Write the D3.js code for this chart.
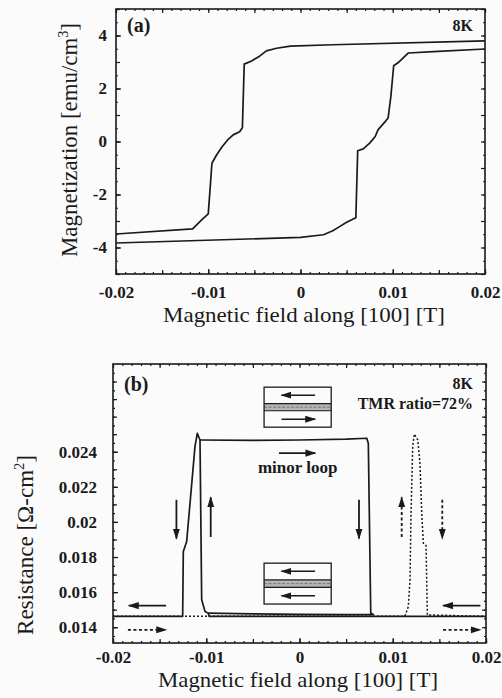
<!DOCTYPE html>
<html lang="en">
<head>
<meta charset="UTF-8">
<title>Magnetization and TMR loops</title>
<script src="https://d3js.org/d3.v7.min.js"></script>
<style>
  body { margin: 0; background: #fbfbfb; }
  svg { display: block; }
  text { font-family: "Liberation Serif", "DejaVu Serif", serif; fill: #1a1a1a; }
</style>
</head>
<body>
<div id="chart"></div>
<script>
// ---- data ----
const fieldTicks = [-0.02, -0.01, 0, 0.01, 0.02];
const magTicks = [-4, -2, 0, 2, 4];
const resTicks = [0.014, 0.016, 0.018, 0.02, 0.022, 0.024];

// (a) branch that flips at negative field  [H (T), M (emu/cm3)]
const magSwitchNeg = [
  [-0.02, -3.49], [-0.0117, -3.3], [-0.0106, -2.92], [-0.0100, -2.73],
  [-0.0096, -0.82], [-0.0091, -0.51], [-0.0085, -0.2], [-0.0079, 0.06],
  [-0.0073, 0.25], [-0.0066, 0.37], [-0.0063, 0.52], [-0.0061, 2.92],
  [-0.0053, 3.04], [-0.0044, 3.23], [-0.0037, 3.42], [-0.0026, 3.52],
  [-0.0011, 3.6], [0.0035, 3.65], [0.02, 3.8]
];
// (a) branch that flips at positive field
const magSwitchPos = [
  [-0.02, -3.83], [0, -3.62], [0.0025, -3.52], [0.0035, -3.37],
  [0.0041, -3.24], [0.005, -3.05], [0.006, -2.88], [0.0062, -0.35],
  [0.0068, -0.28], [0.0075, -0.06], [0.0081, 0.19], [0.0084, 0.44],
  [0.0092, 0.76], [0.0095, 0.89], [0.0098, 1.71], [0.0101, 2.86],
  [0.0106, 2.98], [0.0117, 3.34], [0.0144, 3.39], [0.02, 3.49]
];

// (b) resistance [H (T), R (Ohm cm2)]
// full sweep, field decreasing (solid)
const resDown = [
  [0.02, 0.01462], [-0.0097, 0.01462], [-0.00978, 0.0148], [-0.01013, 0.01489],
  [-0.01049, 0.01556], [-0.01067, 0.02467], [-0.01075, 0.02477], [-0.01096, 0.02505],
  [-0.01121, 0.02429], [-0.0121, 0.01888], [-0.01246, 0.01831], [-0.01253, 0.01462],
  [-0.02, 0.01462]
];
// minor loop (solid)
const resMinor = [
  [-0.01067, 0.02467], [-0.005, 0.02465], [0, 0.02467], [0.005, 0.02472],
  [0.00721, 0.02477], [0.00738, 0.02448], [0.00764, 0.0148], [0.00792, 0.01472],
  [0.005, 0.01472], [0, 0.01473], [-0.005, 0.01476], [-0.00978, 0.0148]
];
// full sweep, field increasing (dashed)
const resUp = [
  [-0.02, 0.01462], [0.0113, 0.01462], [0.01167, 0.01517], [0.01185, 0.0167],
  [0.01196, 0.02051], [0.01214, 0.02429], [0.01231, 0.02501], [0.01268, 0.02467],
  [0.01292, 0.02334], [0.01311, 0.0205], [0.01328, 0.01879], [0.01357, 0.01865],
  [0.01371, 0.0147], [0.02, 0.01462]
];

// sweep arrows: [H1, R1, H2, R2, dashed]
const resArrows = [
  [-0.0143, 0.01523, -0.0183, 0.01523, false],
  [-0.0184, 0.01385, -0.0143, 0.01385, true],
  [0.0194, 0.01523, 0.0154, 0.01523, false],
  [0.0154, 0.01385, 0.0194, 0.01385, true],
  [-0.0132, 0.02126, -0.0132, 0.01905, false],
  [-0.00952, 0.01914, -0.00952, 0.02140, false],
  [0.00638, 0.02126, 0.00638, 0.01905, false],
  [0.01096, 0.01914, 0.01096, 0.02140, true],
  [0.01531, 0.02126, 0.01531, 0.01905, true],
  [-0.0022, 0.02392, 0.0017, 0.02392, false]
];

// magnetic layer sketches: field span, resistance span, arrow direction top / bottom
const insets = [
  { h: [-0.0038, 0.0034], r: [0.0254, 0.02768], top: -1, bottom: 1 },
  { h: [-0.0038, 0.0034], r: [0.01532, 0.01765], top: -1, bottom: -1 }
];

// ---- drawing ----
const W = 502, H = 698;
const ink = "#1a1a1a";
const svg = d3.select("#chart").append("svg").attr("width", W).attr("height", H);

const defs = svg.append("defs");
defs.append("marker")
  .attr("id", "head").attr("viewBox", "0 0 10 10")
  .attr("refX", 9).attr("refY", 5)
  .attr("markerWidth", 11).attr("markerHeight", 11)
  .attr("markerUnits", "userSpaceOnUse")
  .attr("orient", "auto")
  .append("path").attr("d", "M0,1.8 L10,5 L0,8.2 Z").attr("fill", ink);

function fmt(v) { return Math.abs(v) < 1e-12 ? "0" : String(+v.toFixed(4)); }

function frameAxes(g, x, y, opt) {
  const [x0, x1] = x.range(), [y0, y1] = y.range(); // y0 bottom, y1 top
  // major ticks with labels
  g.append("g").attr("transform", `translate(0,${y0})`)
    .call(d3.axisBottom(x).tickValues(fieldTicks).tickSizeInner(-5).tickSizeOuter(0)
      .tickPadding(opt.xPad).tickFormat(fmt))
    .call(a => a.select(".domain").remove())
    .call(a => a.selectAll("text").attr("font-size", 17).attr("font-weight", "bold").attr("font-family", null));
  g.append("g").attr("transform", `translate(${x0},0)`)
    .call(d3.axisLeft(y).tickValues(opt.yTicks).tickSizeInner(-5).tickSizeOuter(0)
      .tickPadding(opt.yPad).tickFormat(fmt))
    .call(a => a.select(".domain").remove())
    .call(a => a.selectAll("text").attr("font-size", 17).attr("font-weight", "bold").attr("font-family", null));
  // unlabeled sides and minor ticks
  const xMinor = d3.range(-20, 21).map(i => i * 0.001);
  const xMid = d3.range(-4, 5).map(i => i * 0.005);
  const blank = () => "";
  [[d3.axisBottom, y0], [d3.axisTop, y1]].forEach(([ax, pos]) => {
    g.append("g").attr("transform", `translate(0,${pos})`)
      .call(ax(x).tickValues(xMinor).tickSizeInner(-2).tickSizeOuter(0).tickFormat(blank))
      .call(a => a.select(".domain").remove());
    g.append("g").attr("transform", `translate(0,${pos})`)
      .call(ax(x).tickValues(xMid).tickSizeInner(-4).tickSizeOuter(0).tickFormat(blank))
      .call(a => a.select(".domain").remove());
  });
  [[d3.axisLeft, x0], [d3.axisRight, x1]].forEach(([ax, pos]) => {
    g.append("g").attr("transform", `translate(${pos},0)`)
      .call(ax(y).tickValues(opt.yMinor).tickSizeInner(-2).tickSizeOuter(0).tickFormat(blank))
      .call(a => a.select(".domain").remove());
    g.append("g").attr("transform", `translate(${pos},0)`)
      .call(ax(y).tickValues(opt.yMid).tickSizeInner(-4).tickSizeOuter(0).tickFormat(blank))
      .call(a => a.select(".domain").remove());
  });
  g.selectAll(".tick line").attr("stroke", ink).attr("stroke-width", 1.2);
  g.append("rect")
    .attr("x", x0).attr("y", y1).attr("width", x1 - x0).attr("height", y0 - y1)
    .attr("fill", "none").attr("stroke", ink).attr("stroke-width", 1.6);
}

function curve(g, x, y, pts, dashed) {
  g.append("path")
    .attr("d", d3.line().x(d => x(d[0])).y(d => y(d[1]))(pts))
    .attr("fill", "none").attr("stroke", ink)
    .attr("stroke-width", dashed ? 1.5 : 1.7)
    .attr("stroke-linejoin", "round")
    .attr("stroke-dasharray", dashed ? "2,2" : null);
}

// ---------- panel (a) ----------
const xa = d3.scaleLinear().domain([-0.02, 0.02]).range([116, 485]);
const ya = d3.scaleLinear().domain([-5, 5]).range([274, 9]);
const ga = svg.append("g");
frameAxes(ga, xa, ya, {
  yTicks: magTicks, xPad: 12, yPad: 9,
  yMinor: d3.range(-10, 11).map(i => i * 0.5), yMid: d3.range(-5, 6)
});
curve(ga, xa, ya, magSwitchNeg, false);
curve(ga, xa, ya, magSwitchPos, false);

ga.append("text").attr("x", 127).attr("y", 32).attr("font-size", 20).attr("font-weight", "bold").text("(a)");
ga.append("text").attr("x", 473).attr("y", 31).attr("text-anchor", "end").attr("font-size", 16).attr("font-weight", "bold").text("8K");
ga.append("text").attr("x", 304).attr("y", 322).attr("text-anchor", "middle").attr("font-size", 22)
  .attr("textLength", 282).attr("lengthAdjust", "spacingAndGlyphs")
  .text("Magnetic field along [100] [T]");
const ta = ga.append("text").attr("transform", "translate(77,140) rotate(-90)")
  .attr("text-anchor", "middle").attr("font-size", 24)
  .attr("textLength", 234).attr("lengthAdjust", "spacingAndGlyphs");
ta.append("tspan").text("Magnetization [emu/cm");
ta.append("tspan").attr("font-size", 15).attr("dy", -9).text("3");
ta.append("tspan").attr("dy", 9).text("]");

// ---------- panel (b) ----------
const xb = d3.scaleLinear().domain([-0.02, 0.02]).range([113, 486]);
const yb = d3.scaleLinear().domain([0.0131, 0.029]).range([643, 364]);
const gb = svg.append("g");
frameAxes(gb, xb, yb, {
  yTicks: resTicks, xPad: 8, yPad: 16,
  yMinor: d3.range(27, 58).map(i => i * 0.0005), yMid: d3.range(14, 29).map(i => i * 0.001)
});

// layer sketches
insets.forEach(b => {
  const bx0 = xb(b.h[0]), bx1 = xb(b.h[1]);
  const by0 = yb(b.r[1]), by1 = yb(b.r[0]);
  const hgt = by1 - by0;
  const s = gb.append("g");
  s.append("rect").attr("x", bx0).attr("y", by0 + hgt * 0.41).attr("width", bx1 - bx0).attr("height", hgt * 0.18)
    .attr("fill", "#b4b4b4");
  s.append("line").attr("x1", bx0).attr("x2", bx1).attr("y1", by0 + hgt * 0.5).attr("y2", by0 + hgt * 0.5)
    .attr("stroke", "#777").attr("stroke-width", 1).attr("stroke-dasharray", "3,1.5");
  s.append("rect").attr("x", bx0).attr("y", by0).attr("width", bx1 - bx0).attr("height", hgt)
    .attr("fill", "none").attr("stroke", ink).attr("stroke-width", 1.3);
  [0.41, 0.59].forEach(f => s.append("line").attr("x1", bx0).attr("x2", bx1)
    .attr("y1", by0 + hgt * f).attr("y2", by0 + hgt * f).attr("stroke", ink).attr("stroke-width", 1.2));
  const ax0 = bx0 + (bx1 - bx0) * 0.26, ax1 = bx0 + (bx1 - bx0) * 0.76;
  [[0.2, b.top], [0.8, b.bottom]].forEach(([f, dir]) => {
    s.append("line")
      .attr("x1", dir < 0 ? ax1 : ax0).attr("x2", dir < 0 ? ax0 : ax1)
      .attr("y1", by0 + hgt * f).attr("y2", by0 + hgt * f)
      .attr("stroke", ink).attr("stroke-width", 1.5).attr("marker-end", "url(#head)");
  });
});

curve(gb, xb, yb, resUp, true);
curve(gb, xb, yb, resDown, false);
curve(gb, xb, yb, resMinor, false);

resArrows.forEach(([h1, r1, h2, r2, dashed]) => {
  gb.append("line")
    .attr("x1", xb(h1)).attr("y1", yb(r1)).attr("x2", xb(h2)).attr("y2", yb(r2))
    .attr("stroke", ink).attr("stroke-width", 1.8)
    .attr("stroke-dasharray", dashed ? "3,2.5" : null)
    .attr("marker-end", "url(#head)");
});

gb.append("text").attr("x", xb(-0.0002)).attr("y", yb(0.02279)).attr("text-anchor", "middle")
  .attr("font-size", 17).attr("font-weight", "bold").text("minor loop");
gb.append("text").attr("x", 124).attr("y", 391).attr("font-size", 20).attr("font-weight", "bold").text("(b)");
gb.append("text").attr("x", 473).attr("y", 389).attr("text-anchor", "end").attr("font-size", 16).attr("font-weight", "bold").text("8K");
gb.append("text").attr("x", 473).attr("y", 409).attr("text-anchor", "end").attr("font-size", 16).attr("font-weight", "bold").text("TMR ratio=72%");
gb.append("text").attr("x", 298).attr("y", 687).attr("text-anchor", "middle").attr("font-size", 22)
  .attr("textLength", 280).attr("lengthAdjust", "spacingAndGlyphs")
  .text("Magnetic field along [100] [T]");
const tb = gb.append("text").attr("transform", "translate(33,545) rotate(-90)")
  .attr("text-anchor", "middle").attr("font-size", 24)
  .attr("textLength", 180).attr("lengthAdjust", "spacingAndGlyphs");
tb.append("tspan").text("Resistance [\u03A9-cm");
tb.append("tspan").attr("font-size", 15).attr("dy", -9).text("2");
tb.append("tspan").attr("dy", 9).text("]");
</script>
</body>
</html>
